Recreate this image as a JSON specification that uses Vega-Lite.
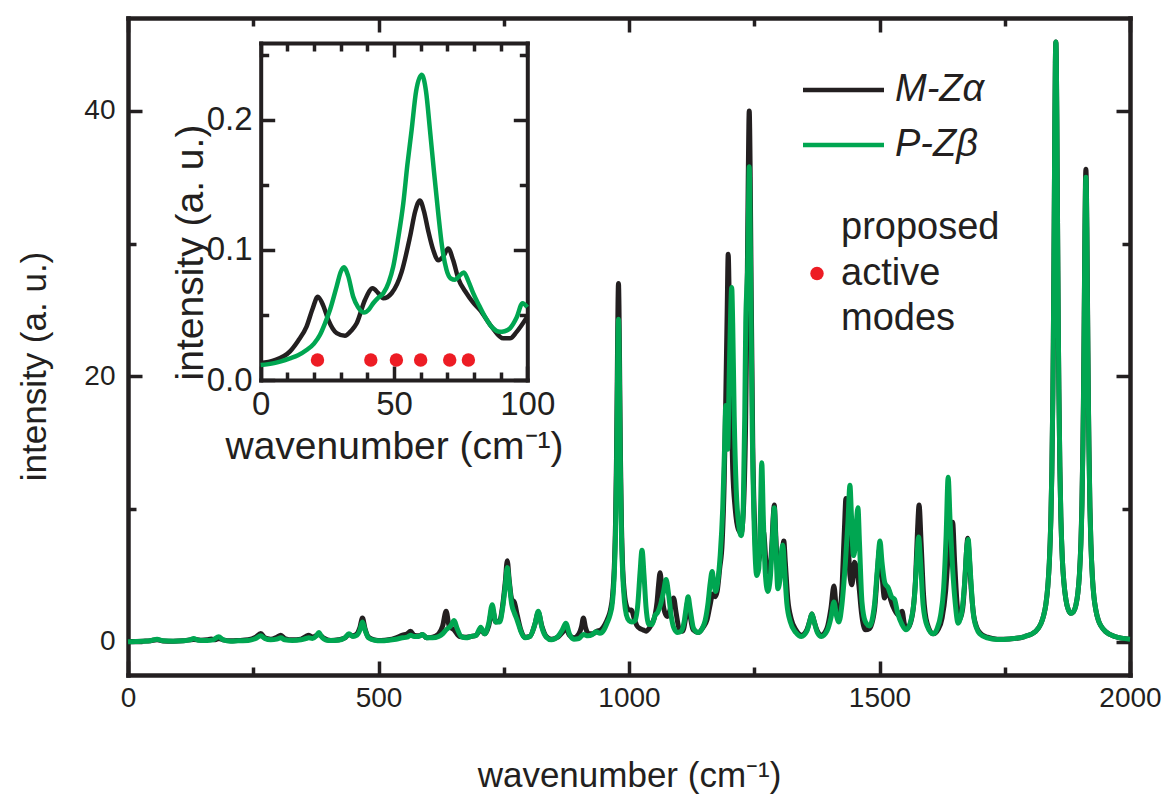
{
"$schema":"https://vega.github.io/schema/vega-lite/v6.json",
"width":1002,"height":657,
"autosize":{"type":"none"},
"padding":{"left":128,"top":18,"right":42,"bottom":119},
"config":{"view":{"stroke":null},"font":"Liberation Sans",
"axis":{"grid":false,"domainColor":"#231f20","tickColor":"#231f20","labelColor":"#231f20","titleColor":"#231f20","labelFont":"Liberation Sans","titleFont":"Liberation Sans","titleFontWeight":"normal","domainWidth":4.5,"tickWidth":3.5,"domainCap":"square","labelOverlap":false,"labelFlush":false,"zindex":1}},
"datasets":{
"main":[
{"s":"M-Zα","wn":0,"int":0.02},{"s":"M-Zα","wn":15,"int":0.03},{"s":"M-Zα","wn":30,"int":0.05},{"s":"M-Zα","wn":45,"int":0.08},{"s":"M-Zα","wn":58,"int":0.15},{"s":"M-Zα","wn":70,"int":0.07},{"s":"M-Zα","wn":90,"int":0.05},{"s":"M-Zα","wn":110,"int":0.08},{"s":"M-Zα","wn":131,"int":0.18},{"s":"M-Zα","wn":145,"int":0.12},{"s":"M-Zα","wn":158,"int":0.15},{"s":"M-Zα","wn":166,"int":0.22},{"s":"M-Zα","wn":174,"int":0.15},{"s":"M-Zα","wn":181,"int":0.25},{"s":"M-Zα","wn":190,"int":0.15},{"s":"M-Zα","wn":205,"int":0.08},{"s":"M-Zα","wn":220,"int":0.1},{"s":"M-Zα","wn":240,"int":0.15},{"s":"M-Zα","wn":255,"int":0.35},{"s":"M-Zα","wn":265,"int":0.63},{"s":"M-Zα","wn":273,"int":0.3},{"s":"M-Zα","wn":285,"int":0.2},{"s":"M-Zα","wn":297,"int":0.35},{"s":"M-Zα","wn":305,"int":0.5},{"s":"M-Zα","wn":313,"int":0.25},{"s":"M-Zα","wn":328,"int":0.15},{"s":"M-Zα","wn":345,"int":0.2},{"s":"M-Zα","wn":355,"int":0.4},{"s":"M-Zα","wn":361,"int":0.5},{"s":"M-Zα","wn":368,"int":0.35},{"s":"M-Zα","wn":381,"int":0.55},{"s":"M-Zα","wn":390,"int":0.3},{"s":"M-Zα","wn":405,"int":0.1},{"s":"M-Zα","wn":420,"int":0.15},{"s":"M-Zα","wn":433,"int":0.3},{"s":"M-Zα","wn":441,"int":0.55},{"s":"M-Zα","wn":449,"int":0.45},{"s":"M-Zα","wn":457,"int":0.6},{"s":"M-Zα","wn":463,"int":1.1},{"s":"M-Zα","wn":468,"int":1.8},{"s":"M-Zα","wn":473,"int":1.0},{"s":"M-Zα","wn":480,"int":0.35},{"s":"M-Zα","wn":492,"int":0.15},{"s":"M-Zα","wn":505,"int":0.1},{"s":"M-Zα","wn":520,"int":0.15},{"s":"M-Zα","wn":535,"int":0.3},{"s":"M-Zα","wn":548,"int":0.5},{"s":"M-Zα","wn":557,"int":0.6},{"s":"M-Zα","wn":564,"int":0.8},{"s":"M-Zα","wn":571,"int":0.5},{"s":"M-Zα","wn":580,"int":0.45},{"s":"M-Zα","wn":588,"int":0.55},{"s":"M-Zα","wn":596,"int":0.3},{"s":"M-Zα","wn":608,"int":0.35},{"s":"M-Zα","wn":620,"int":0.6},{"s":"M-Zα","wn":628,"int":1.2},{"s":"M-Zα","wn":635,"int":2.3},{"s":"M-Zα","wn":641,"int":1.2},{"s":"M-Zα","wn":651,"int":0.9},{"s":"M-Zα","wn":662,"int":0.4},{"s":"M-Zα","wn":675,"int":0.35},{"s":"M-Zα","wn":684,"int":0.4},{"s":"M-Zα","wn":695,"int":0.5},{"s":"M-Zα","wn":704,"int":0.9},{"s":"M-Zα","wn":712,"int":0.6},{"s":"M-Zα","wn":720,"int":1.2},{"s":"M-Zα","wn":727,"int":2.5},{"s":"M-Zα","wn":734,"int":1.5},{"s":"M-Zα","wn":742,"int":1.6},{"s":"M-Zα","wn":748,"int":2.8},{"s":"M-Zα","wn":753,"int":4.5},{"s":"M-Zα","wn":757,"int":6.1},{"s":"M-Zα","wn":761,"int":4.6},{"s":"M-Zα","wn":766,"int":3.2},{"s":"M-Zα","wn":771,"int":3.0},{"s":"M-Zα","wn":777,"int":2.0},{"s":"M-Zα","wn":784,"int":0.9},{"s":"M-Zα","wn":792,"int":0.35},{"s":"M-Zα","wn":802,"int":0.4},{"s":"M-Zα","wn":812,"int":1.3},{"s":"M-Zα","wn":819,"int":2.2},{"s":"M-Zα","wn":826,"int":1.2},{"s":"M-Zα","wn":835,"int":0.4},{"s":"M-Zα","wn":845,"int":0.2},{"s":"M-Zα","wn":858,"int":0.35},{"s":"M-Zα","wn":867,"int":0.7},{"s":"M-Zα","wn":874,"int":1.0},{"s":"M-Zα","wn":881,"int":0.5},{"s":"M-Zα","wn":890,"int":0.3},{"s":"M-Zα","wn":900,"int":0.6},{"s":"M-Zα","wn":905,"int":1.1},{"s":"M-Zα","wn":909,"int":1.8},{"s":"M-Zα","wn":913,"int":1.1},{"s":"M-Zα","wn":920,"int":0.6},{"s":"M-Zα","wn":928,"int":0.6},{"s":"M-Zα","wn":936,"int":0.8},{"s":"M-Zα","wn":944,"int":0.9},{"s":"M-Zα","wn":952,"int":1.3},{"s":"M-Zα","wn":958,"int":1.8},{"s":"M-Zα","wn":963,"int":2.4},{"s":"M-Zα","wn":967,"int":3.4},{"s":"M-Zα","wn":971,"int":6.0},{"s":"M-Zα","wn":973,"int":8.8},{"s":"M-Zα","wn":975,"int":13.8},{"s":"M-Zα","wn":977,"int":21.7},{"s":"M-Zα","wn":978,"int":25.4},{"s":"M-Zα","wn":979,"int":27.0},{"s":"M-Zα","wn":980,"int":25.4},{"s":"M-Zα","wn":981,"int":21.7},{"s":"M-Zα","wn":983,"int":13.8},{"s":"M-Zα","wn":985,"int":8.8},{"s":"M-Zα","wn":987,"int":6.0},{"s":"M-Zα","wn":991,"int":3.6},{"s":"M-Zα","wn":995,"int":2.7},{"s":"M-Zα","wn":1000,"int":2.4},{"s":"M-Zα","wn":1005,"int":2.4},{"s":"M-Zα","wn":1010,"int":1.8},{"s":"M-Zα","wn":1016,"int":1.2},{"s":"M-Zα","wn":1022,"int":1.0},{"s":"M-Zα","wn":1028,"int":0.9},{"s":"M-Zα","wn":1034,"int":0.8},{"s":"M-Zα","wn":1040,"int":1.0},{"s":"M-Zα","wn":1046,"int":1.4},{"s":"M-Zα","wn":1052,"int":2.0},{"s":"M-Zα","wn":1056,"int":3.0},{"s":"M-Zα","wn":1059,"int":4.3},{"s":"M-Zα","wn":1062,"int":5.2},{"s":"M-Zα","wn":1065,"int":4.3},{"s":"M-Zα","wn":1069,"int":2.6},{"s":"M-Zα","wn":1076,"int":1.9},{"s":"M-Zα","wn":1082,"int":2.4},{"s":"M-Zα","wn":1089,"int":3.3},{"s":"M-Zα","wn":1094,"int":2.2},{"s":"M-Zα","wn":1100,"int":1.0},{"s":"M-Zα","wn":1107,"int":0.8},{"s":"M-Zα","wn":1113,"int":1.8},{"s":"M-Zα","wn":1117,"int":3.0},{"s":"M-Zα","wn":1121,"int":2.2},{"s":"M-Zα","wn":1128,"int":0.9},{"s":"M-Zα","wn":1138,"int":0.7},{"s":"M-Zα","wn":1148,"int":1.1},{"s":"M-Zα","wn":1156,"int":1.7},{"s":"M-Zα","wn":1162,"int":2.8},{"s":"M-Zα","wn":1167,"int":3.6},{"s":"M-Zα","wn":1172,"int":3.4},{"s":"M-Zα","wn":1176,"int":3.8},{"s":"M-Zα","wn":1181,"int":5.5},{"s":"M-Zα","wn":1186,"int":7.5},{"s":"M-Zα","wn":1190,"int":12},{"s":"M-Zα","wn":1193,"int":18},{"s":"M-Zα","wn":1196,"int":25},{"s":"M-Zα","wn":1198,"int":29.2},{"s":"M-Zα","wn":1200,"int":26},{"s":"M-Zα","wn":1203,"int":19},{"s":"M-Zα","wn":1207,"int":13},{"s":"M-Zα","wn":1212,"int":10},{"s":"M-Zα","wn":1218,"int":8.5},{"s":"M-Zα","wn":1224,"int":8.2},{"s":"M-Zα","wn":1229,"int":10.5},{"s":"M-Zα","wn":1233,"int":17},{"s":"M-Zα","wn":1236,"int":27},{"s":"M-Zα","wn":1238,"int":35},{"s":"M-Zα","wn":1240,"int":40},{"s":"M-Zα","wn":1242,"int":35},{"s":"M-Zα","wn":1244,"int":26},{"s":"M-Zα","wn":1247,"int":15},{"s":"M-Zα","wn":1251,"int":8.5},{"s":"M-Zα","wn":1256,"int":5.8},{"s":"M-Zα","wn":1261,"int":6.5},{"s":"M-Zα","wn":1265,"int":8.5},{"s":"M-Zα","wn":1269,"int":8.2},{"s":"M-Zα","wn":1274,"int":5.8},{"s":"M-Zα","wn":1280,"int":5.2},{"s":"M-Zα","wn":1285,"int":7.2},{"s":"M-Zα","wn":1288,"int":9.5},{"s":"M-Zα","wn":1290,"int":10.3},{"s":"M-Zα","wn":1293,"int":8.0},{"s":"M-Zα","wn":1298,"int":4.8},{"s":"M-Zα","wn":1303,"int":5.6},{"s":"M-Zα","wn":1307,"int":7.2},{"s":"M-Zα","wn":1309,"int":7.6},{"s":"M-Zα","wn":1312,"int":6.0},{"s":"M-Zα","wn":1317,"int":3.2},{"s":"M-Zα","wn":1324,"int":1.7},{"s":"M-Zα","wn":1333,"int":0.9},{"s":"M-Zα","wn":1344,"int":0.5},{"s":"M-Zα","wn":1355,"int":0.9},{"s":"M-Zα","wn":1361,"int":1.6},{"s":"M-Zα","wn":1365,"int":2.1},{"s":"M-Zα","wn":1369,"int":1.6},{"s":"M-Zα","wn":1376,"int":0.8},{"s":"M-Zα","wn":1384,"int":0.5},{"s":"M-Zα","wn":1395,"int":1.0},{"s":"M-Zα","wn":1403,"int":2.5},{"s":"M-Zα","wn":1409,"int":4.2},{"s":"M-Zα","wn":1414,"int":2.5},{"s":"M-Zα","wn":1419,"int":2.0},{"s":"M-Zα","wn":1425,"int":4.0},{"s":"M-Zα","wn":1430,"int":8.5},{"s":"M-Zα","wn":1433,"int":10.8},{"s":"M-Zα","wn":1437,"int":8.0},{"s":"M-Zα","wn":1441,"int":5.0},{"s":"M-Zα","wn":1445,"int":4.3},{"s":"M-Zα","wn":1450,"int":6.0},{"s":"M-Zα","wn":1454,"int":5.6},{"s":"M-Zα","wn":1459,"int":4.2},{"s":"M-Zα","wn":1464,"int":2.2},{"s":"M-Zα","wn":1472,"int":0.9},{"s":"M-Zα","wn":1480,"int":1.0},{"s":"M-Zα","wn":1490,"int":2.4},{"s":"M-Zα","wn":1496,"int":5.3},{"s":"M-Zα","wn":1500,"int":7.0},{"s":"M-Zα","wn":1504,"int":5.5},{"s":"M-Zα","wn":1510,"int":3.3},{"s":"M-Zα","wn":1517,"int":4.0},{"s":"M-Zα","wn":1522,"int":3.2},{"s":"M-Zα","wn":1530,"int":2.4},{"s":"M-Zα","wn":1538,"int":2.0},{"s":"M-Zα","wn":1545,"int":2.3},{"s":"M-Zα","wn":1550,"int":1.3},{"s":"M-Zα","wn":1556,"int":1.0},{"s":"M-Zα","wn":1565,"int":1.9},{"s":"M-Zα","wn":1572,"int":4.8},{"s":"M-Zα","wn":1576,"int":8.5},{"s":"M-Zα","wn":1579,"int":10.3},{"s":"M-Zα","wn":1583,"int":7.5},{"s":"M-Zα","wn":1588,"int":3.5},{"s":"M-Zα","wn":1595,"int":1.4},{"s":"M-Zα","wn":1607,"int":0.6},{"s":"M-Zα","wn":1618,"int":1.0},{"s":"M-Zα","wn":1625,"int":1.8},{"s":"M-Zα","wn":1632,"int":3.8},{"s":"M-Zα","wn":1637,"int":6.5},{"s":"M-Zα","wn":1642,"int":8.8},{"s":"M-Zα","wn":1646,"int":9.0},{"s":"M-Zα","wn":1650,"int":6.0},{"s":"M-Zα","wn":1655,"int":2.8},{"s":"M-Zα","wn":1660,"int":1.7},{"s":"M-Zα","wn":1666,"int":2.5},{"s":"M-Zα","wn":1671,"int":5.0},{"s":"M-Zα","wn":1674,"int":7.0},{"s":"M-Zα","wn":1676,"int":7.8},{"s":"M-Zα","wn":1679,"int":6.5},{"s":"M-Zα","wn":1683,"int":4.0},{"s":"M-Zα","wn":1688,"int":2.0},{"s":"M-Zα","wn":1694,"int":1.1},{"s":"M-Zα","wn":1700,"int":0.7},{"s":"M-Zα","wn":1715,"int":0.35},{"s":"M-Zα","wn":1735,"int":0.2},{"s":"M-Zα","wn":1760,"int":0.22},{"s":"M-Zα","wn":1790,"int":0.4},{"s":"M-Zα","wn":1812,"int":0.8},{"s":"M-Zα","wn":1822,"int":1.35},{"s":"M-Zα","wn":1827,"int":1.9},{"s":"M-Zα","wn":1832,"int":2.8},{"s":"M-Zα","wn":1836,"int":4.2},{"s":"M-Zα","wn":1839,"int":6.0},{"s":"M-Zα","wn":1842,"int":9.2},{"s":"M-Zα","wn":1844,"int":12.8},{"s":"M-Zα","wn":1846,"int":18.6},{"s":"M-Zα","wn":1847,"int":22.7},{"s":"M-Zα","wn":1848,"int":27.8},{"s":"M-Zα","wn":1849,"int":33.5},{"s":"M-Zα","wn":1850,"int":39.2},{"s":"M-Zα","wn":1851,"int":43.6},{"s":"M-Zα","wn":1852,"int":45.2},{"s":"M-Zα","wn":1853,"int":43.6},{"s":"M-Zα","wn":1854,"int":39.3},{"s":"M-Zα","wn":1855,"int":33.6},{"s":"M-Zα","wn":1856,"int":28},{"s":"M-Zα","wn":1857,"int":23.1},{"s":"M-Zα","wn":1858,"int":19.1},{"s":"M-Zα","wn":1860,"int":13.2},{"s":"M-Zα","wn":1862,"int":9.4},{"s":"M-Zα","wn":1865,"int":6.2},{"s":"M-Zα","wn":1868,"int":4.5},{"s":"M-Zα","wn":1872,"int":3.2},{"s":"M-Zα","wn":1877,"int":2.4},{"s":"M-Zα","wn":1882,"int":2.15},{"s":"M-Zα","wn":1887,"int":2.26},{"s":"M-Zα","wn":1892,"int":2.76},{"s":"M-Zα","wn":1896,"int":3.7},{"s":"M-Zα","wn":1899,"int":5.05},{"s":"M-Zα","wn":1902,"int":7.5},{"s":"M-Zα","wn":1904,"int":10.3},{"s":"M-Zα","wn":1906,"int":14.9},{"s":"M-Zα","wn":1907,"int":18},{"s":"M-Zα","wn":1908,"int":21.9},{"s":"M-Zα","wn":1909,"int":26.4},{"s":"M-Zα","wn":1910,"int":30.8},{"s":"M-Zα","wn":1911,"int":34.3},{"s":"M-Zα","wn":1912,"int":35.6},{"s":"M-Zα","wn":1913,"int":34.3},{"s":"M-Zα","wn":1914,"int":30.8},{"s":"M-Zα","wn":1915,"int":26.4},{"s":"M-Zα","wn":1916,"int":21.9},{"s":"M-Zα","wn":1917,"int":18},{"s":"M-Zα","wn":1918,"int":14.9},{"s":"M-Zα","wn":1920,"int":10.2},{"s":"M-Zα","wn":1922,"int":7.4},{"s":"M-Zα","wn":1925,"int":4.85},{"s":"M-Zα","wn":1928,"int":3.4},{"s":"M-Zα","wn":1932,"int":2.36},{"s":"M-Zα","wn":1937,"int":1.6},{"s":"M-Zα","wn":1942,"int":1.2},{"s":"M-Zα","wn":1952,"int":0.75},{"s":"M-Zα","wn":1970,"int":0.4},{"s":"M-Zα","wn":2000,"int":0.2},
{"s":"P-Zβ","wn":0,"int":0.0},{"s":"P-Zβ","wn":15,"int":0.02},{"s":"P-Zβ","wn":30,"int":0.04},{"s":"P-Zβ","wn":45,"int":0.08},{"s":"P-Zβ","wn":58,"int":0.2},{"s":"P-Zβ","wn":70,"int":0.08},{"s":"P-Zβ","wn":90,"int":0.05},{"s":"P-Zβ","wn":110,"int":0.08},{"s":"P-Zβ","wn":124,"int":0.15},{"s":"P-Zβ","wn":131,"int":0.25},{"s":"P-Zβ","wn":140,"int":0.12},{"s":"P-Zβ","wn":158,"int":0.1},{"s":"P-Zβ","wn":170,"int":0.15},{"s":"P-Zβ","wn":181,"int":0.38},{"s":"P-Zβ","wn":190,"int":0.15},{"s":"P-Zβ","wn":205,"int":0.05},{"s":"P-Zβ","wn":220,"int":0.08},{"s":"P-Zβ","wn":240,"int":0.1},{"s":"P-Zβ","wn":255,"int":0.25},{"s":"P-Zβ","wn":265,"int":0.45},{"s":"P-Zβ","wn":273,"int":0.25},{"s":"P-Zβ","wn":285,"int":0.15},{"s":"P-Zβ","wn":297,"int":0.2},{"s":"P-Zβ","wn":305,"int":0.3},{"s":"P-Zβ","wn":313,"int":0.15},{"s":"P-Zβ","wn":328,"int":0.1},{"s":"P-Zβ","wn":345,"int":0.15},{"s":"P-Zβ","wn":355,"int":0.25},{"s":"P-Zβ","wn":361,"int":0.3},{"s":"P-Zβ","wn":368,"int":0.25},{"s":"P-Zβ","wn":376,"int":0.45},{"s":"P-Zβ","wn":381,"int":0.7},{"s":"P-Zβ","wn":387,"int":0.35},{"s":"P-Zβ","wn":400,"int":0.1},{"s":"P-Zβ","wn":420,"int":0.12},{"s":"P-Zβ","wn":433,"int":0.3},{"s":"P-Zβ","wn":441,"int":0.6},{"s":"P-Zβ","wn":449,"int":0.4},{"s":"P-Zβ","wn":457,"int":0.5},{"s":"P-Zβ","wn":463,"int":0.9},{"s":"P-Zβ","wn":468,"int":1.5},{"s":"P-Zβ","wn":473,"int":0.9},{"s":"P-Zβ","wn":480,"int":0.3},{"s":"P-Zβ","wn":492,"int":0.12},{"s":"P-Zβ","wn":505,"int":0.08},{"s":"P-Zβ","wn":520,"int":0.12},{"s":"P-Zβ","wn":535,"int":0.2},{"s":"P-Zβ","wn":548,"int":0.3},{"s":"P-Zβ","wn":557,"int":0.35},{"s":"P-Zβ","wn":564,"int":0.5},{"s":"P-Zβ","wn":571,"int":0.4},{"s":"P-Zβ","wn":580,"int":0.4},{"s":"P-Zβ","wn":588,"int":0.55},{"s":"P-Zβ","wn":596,"int":0.3},{"s":"P-Zβ","wn":608,"int":0.3},{"s":"P-Zβ","wn":620,"int":0.4},{"s":"P-Zβ","wn":628,"int":0.6},{"s":"P-Zβ","wn":635,"int":0.9},{"s":"P-Zβ","wn":644,"int":1.2},{"s":"P-Zβ","wn":651,"int":1.6},{"s":"P-Zβ","wn":657,"int":1.0},{"s":"P-Zβ","wn":665,"int":0.4},{"s":"P-Zβ","wn":675,"int":0.3},{"s":"P-Zβ","wn":684,"int":0.4},{"s":"P-Zβ","wn":695,"int":0.5},{"s":"P-Zβ","wn":704,"int":1.1},{"s":"P-Zβ","wn":712,"int":0.6},{"s":"P-Zβ","wn":720,"int":1.4},{"s":"P-Zβ","wn":727,"int":2.8},{"s":"P-Zβ","wn":734,"int":1.5},{"s":"P-Zβ","wn":742,"int":1.5},{"s":"P-Zβ","wn":748,"int":2.6},{"s":"P-Zβ","wn":753,"int":4.2},{"s":"P-Zβ","wn":757,"int":5.6},{"s":"P-Zβ","wn":761,"int":4.4},{"s":"P-Zβ","wn":766,"int":2.8},{"s":"P-Zβ","wn":771,"int":2.2},{"s":"P-Zβ","wn":777,"int":1.6},{"s":"P-Zβ","wn":784,"int":0.8},{"s":"P-Zβ","wn":792,"int":0.3},{"s":"P-Zβ","wn":802,"int":0.4},{"s":"P-Zβ","wn":812,"int":1.3},{"s":"P-Zβ","wn":819,"int":2.3},{"s":"P-Zβ","wn":826,"int":1.1},{"s":"P-Zβ","wn":835,"int":0.35},{"s":"P-Zβ","wn":845,"int":0.15},{"s":"P-Zβ","wn":858,"int":0.4},{"s":"P-Zβ","wn":867,"int":0.9},{"s":"P-Zβ","wn":874,"int":1.4},{"s":"P-Zβ","wn":881,"int":0.6},{"s":"P-Zβ","wn":890,"int":0.2},{"s":"P-Zβ","wn":900,"int":0.25},{"s":"P-Zβ","wn":909,"int":0.55},{"s":"P-Zβ","wn":918,"int":0.45},{"s":"P-Zβ","wn":927,"int":0.55},{"s":"P-Zβ","wn":934,"int":0.75},{"s":"P-Zβ","wn":942,"int":0.65},{"s":"P-Zβ","wn":950,"int":0.9},{"s":"P-Zβ","wn":956,"int":1.4},{"s":"P-Zβ","wn":962,"int":2.0},{"s":"P-Zβ","wn":967,"int":3.0},{"s":"P-Zβ","wn":971,"int":5.5},{"s":"P-Zβ","wn":973,"int":8.0},{"s":"P-Zβ","wn":975,"int":12.5},{"s":"P-Zβ","wn":977,"int":19.6},{"s":"P-Zβ","wn":978,"int":22.9},{"s":"P-Zβ","wn":979,"int":24.3},{"s":"P-Zβ","wn":980,"int":22.9},{"s":"P-Zβ","wn":981,"int":19.6},{"s":"P-Zβ","wn":983,"int":12.5},{"s":"P-Zβ","wn":985,"int":8.0},{"s":"P-Zβ","wn":987,"int":5.5},{"s":"P-Zβ","wn":991,"int":3.0},{"s":"P-Zβ","wn":995,"int":2.0},{"s":"P-Zβ","wn":1000,"int":1.6},{"s":"P-Zβ","wn":1006,"int":1.5},{"s":"P-Zβ","wn":1012,"int":1.6},{"s":"P-Zβ","wn":1018,"int":3.0},{"s":"P-Zβ","wn":1022,"int":5.2},{"s":"P-Zβ","wn":1026,"int":6.9},{"s":"P-Zβ","wn":1030,"int":5.0},{"s":"P-Zβ","wn":1034,"int":2.6},{"s":"P-Zβ","wn":1040,"int":1.3},{"s":"P-Zβ","wn":1046,"int":1.3},{"s":"P-Zβ","wn":1052,"int":2.0},{"s":"P-Zβ","wn":1057,"int":2.2},{"s":"P-Zβ","wn":1063,"int":2.8},{"s":"P-Zβ","wn":1069,"int":3.8},{"s":"P-Zβ","wn":1074,"int":4.7},{"s":"P-Zβ","wn":1079,"int":3.6},{"s":"P-Zβ","wn":1084,"int":2.0},{"s":"P-Zβ","wn":1090,"int":1.0},{"s":"P-Zβ","wn":1097,"int":0.7},{"s":"P-Zβ","wn":1104,"int":0.8},{"s":"P-Zβ","wn":1110,"int":1.5},{"s":"P-Zβ","wn":1115,"int":2.8},{"s":"P-Zβ","wn":1118,"int":3.4},{"s":"P-Zβ","wn":1122,"int":2.5},{"s":"P-Zβ","wn":1129,"int":1.0},{"s":"P-Zβ","wn":1138,"int":0.7},{"s":"P-Zβ","wn":1146,"int":1.0},{"s":"P-Zβ","wn":1152,"int":1.6},{"s":"P-Zβ","wn":1158,"int":3.0},{"s":"P-Zβ","wn":1162,"int":4.4},{"s":"P-Zβ","wn":1166,"int":5.3},{"s":"P-Zβ","wn":1169,"int":4.5},{"s":"P-Zβ","wn":1173,"int":3.8},{"s":"P-Zβ","wn":1177,"int":4.5},{"s":"P-Zβ","wn":1182,"int":6.5},{"s":"P-Zβ","wn":1187,"int":10},{"s":"P-Zβ","wn":1191,"int":15},{"s":"P-Zβ","wn":1193,"int":17.8},{"s":"P-Zβ","wn":1195,"int":15},{"s":"P-Zβ","wn":1197,"int":14.5},{"s":"P-Zβ","wn":1200,"int":20},{"s":"P-Zβ","wn":1203,"int":25},{"s":"P-Zβ","wn":1205,"int":26.7},{"s":"P-Zβ","wn":1207,"int":24},{"s":"P-Zβ","wn":1210,"int":17},{"s":"P-Zβ","wn":1214,"int":11.5},{"s":"P-Zβ","wn":1219,"int":8.8},{"s":"P-Zβ","wn":1224,"int":8.0},{"s":"P-Zβ","wn":1228,"int":10},{"s":"P-Zβ","wn":1231,"int":17},{"s":"P-Zβ","wn":1233,"int":24},{"s":"P-Zβ","wn":1235,"int":26.5},{"s":"P-Zβ","wn":1237,"int":28.5},{"s":"P-Zβ","wn":1239,"int":34},{"s":"P-Zβ","wn":1240,"int":35.8},{"s":"P-Zβ","wn":1241,"int":34},{"s":"P-Zβ","wn":1243,"int":27},{"s":"P-Zβ","wn":1246,"int":16},{"s":"P-Zβ","wn":1250,"int":8.5},{"s":"P-Zβ","wn":1255,"int":5.0},{"s":"P-Zβ","wn":1259,"int":5.5},{"s":"P-Zβ","wn":1262,"int":9},{"s":"P-Zβ","wn":1265,"int":13.5},{"s":"P-Zβ","wn":1268,"int":9.5},{"s":"P-Zβ","wn":1272,"int":5.2},{"s":"P-Zβ","wn":1277,"int":3.8},{"s":"P-Zβ","wn":1282,"int":4.8},{"s":"P-Zβ","wn":1286,"int":7.5},{"s":"P-Zβ","wn":1290,"int":10.1},{"s":"P-Zβ","wn":1293,"int":7.5},{"s":"P-Zβ","wn":1297,"int":4.0},{"s":"P-Zβ","wn":1301,"int":4.6},{"s":"P-Zβ","wn":1305,"int":7.0},{"s":"P-Zβ","wn":1307,"int":7.3},{"s":"P-Zβ","wn":1310,"int":5.8},{"s":"P-Zβ","wn":1315,"int":2.9},{"s":"P-Zβ","wn":1322,"int":1.5},{"s":"P-Zβ","wn":1333,"int":0.7},{"s":"P-Zβ","wn":1344,"int":0.4},{"s":"P-Zβ","wn":1355,"int":0.8},{"s":"P-Zβ","wn":1361,"int":1.6},{"s":"P-Zβ","wn":1365,"int":2.1},{"s":"P-Zβ","wn":1369,"int":1.6},{"s":"P-Zβ","wn":1376,"int":0.7},{"s":"P-Zβ","wn":1384,"int":0.4},{"s":"P-Zβ","wn":1395,"int":0.8},{"s":"P-Zβ","wn":1403,"int":1.8},{"s":"P-Zβ","wn":1409,"int":3.0},{"s":"P-Zβ","wn":1414,"int":2.0},{"s":"P-Zβ","wn":1419,"int":1.5},{"s":"P-Zβ","wn":1425,"int":2.8},{"s":"P-Zβ","wn":1432,"int":6.0},{"s":"P-Zβ","wn":1437,"int":9.0},{"s":"P-Zβ","wn":1441,"int":11.8},{"s":"P-Zβ","wn":1444,"int":9.5},{"s":"P-Zβ","wn":1448,"int":6.5},{"s":"P-Zβ","wn":1451,"int":7.0},{"s":"P-Zβ","wn":1454,"int":9.0},{"s":"P-Zβ","wn":1457,"int":10.1},{"s":"P-Zβ","wn":1460,"int":7.5},{"s":"P-Zβ","wn":1465,"int":3.0},{"s":"P-Zβ","wn":1472,"int":1.5},{"s":"P-Zβ","wn":1480,"int":1.2},{"s":"P-Zβ","wn":1490,"int":2.8},{"s":"P-Zβ","wn":1496,"int":5.6},{"s":"P-Zβ","wn":1501,"int":7.6},{"s":"P-Zβ","wn":1505,"int":6.0},{"s":"P-Zβ","wn":1511,"int":4.4},{"s":"P-Zβ","wn":1517,"int":4.1},{"s":"P-Zβ","wn":1524,"int":3.4},{"s":"P-Zβ","wn":1530,"int":3.2},{"s":"P-Zβ","wn":1536,"int":2.2},{"s":"P-Zβ","wn":1545,"int":1.3},{"s":"P-Zβ","wn":1553,"int":0.9},{"s":"P-Zβ","wn":1562,"int":1.5},{"s":"P-Zβ","wn":1570,"int":3.5},{"s":"P-Zβ","wn":1575,"int":6.5},{"s":"P-Zβ","wn":1578,"int":7.9},{"s":"P-Zβ","wn":1582,"int":6.0},{"s":"P-Zβ","wn":1587,"int":2.8},{"s":"P-Zβ","wn":1595,"int":1.2},{"s":"P-Zβ","wn":1607,"int":0.6},{"s":"P-Zβ","wn":1615,"int":1.0},{"s":"P-Zβ","wn":1622,"int":2.0},{"s":"P-Zβ","wn":1628,"int":4.0},{"s":"P-Zβ","wn":1633,"int":8.0},{"s":"P-Zβ","wn":1637,"int":12.4},{"s":"P-Zβ","wn":1641,"int":9.0},{"s":"P-Zβ","wn":1646,"int":5.5},{"s":"P-Zβ","wn":1651,"int":3.0},{"s":"P-Zβ","wn":1657,"int":1.4},{"s":"P-Zβ","wn":1664,"int":2.2},{"s":"P-Zβ","wn":1670,"int":4.5},{"s":"P-Zβ","wn":1674,"int":7.0},{"s":"P-Zβ","wn":1677,"int":7.7},{"s":"P-Zβ","wn":1681,"int":5.5},{"s":"P-Zβ","wn":1687,"int":2.2},{"s":"P-Zβ","wn":1694,"int":1.0},{"s":"P-Zβ","wn":1700,"int":0.6},{"s":"P-Zβ","wn":1715,"int":0.3},{"s":"P-Zβ","wn":1735,"int":0.18},{"s":"P-Zβ","wn":1760,"int":0.22},{"s":"P-Zβ","wn":1790,"int":0.4},{"s":"P-Zβ","wn":1812,"int":0.8},{"s":"P-Zβ","wn":1822,"int":1.35},{"s":"P-Zβ","wn":1827,"int":1.9},{"s":"P-Zβ","wn":1832,"int":2.8},{"s":"P-Zβ","wn":1836,"int":4.2},{"s":"P-Zβ","wn":1839,"int":6.0},{"s":"P-Zβ","wn":1842,"int":9.2},{"s":"P-Zβ","wn":1844,"int":12.8},{"s":"P-Zβ","wn":1846,"int":18.6},{"s":"P-Zβ","wn":1847,"int":22.7},{"s":"P-Zβ","wn":1848,"int":27.8},{"s":"P-Zβ","wn":1849,"int":33.5},{"s":"P-Zβ","wn":1850,"int":39.2},{"s":"P-Zβ","wn":1851,"int":43.6},{"s":"P-Zβ","wn":1852,"int":45.2},{"s":"P-Zβ","wn":1853,"int":43.6},{"s":"P-Zβ","wn":1854,"int":39.3},{"s":"P-Zβ","wn":1855,"int":33.6},{"s":"P-Zβ","wn":1856,"int":28},{"s":"P-Zβ","wn":1857,"int":23.1},{"s":"P-Zβ","wn":1858,"int":19.1},{"s":"P-Zβ","wn":1860,"int":13.2},{"s":"P-Zβ","wn":1862,"int":9.4},{"s":"P-Zβ","wn":1865,"int":6.2},{"s":"P-Zβ","wn":1868,"int":4.5},{"s":"P-Zβ","wn":1872,"int":3.2},{"s":"P-Zβ","wn":1877,"int":2.4},{"s":"P-Zβ","wn":1882,"int":2.15},{"s":"P-Zβ","wn":1887,"int":2.26},{"s":"P-Zβ","wn":1892,"int":2.76},{"s":"P-Zβ","wn":1896,"int":3.7},{"s":"P-Zβ","wn":1899,"int":5.0},{"s":"P-Zβ","wn":1902,"int":7.4},{"s":"P-Zβ","wn":1904,"int":10.1},{"s":"P-Zβ","wn":1906,"int":14.7},{"s":"P-Zβ","wn":1907,"int":17.7},{"s":"P-Zβ","wn":1908,"int":21.6},{"s":"P-Zβ","wn":1909,"int":26.0},{"s":"P-Zβ","wn":1910,"int":30.3},{"s":"P-Zβ","wn":1911,"int":33.8},{"s":"P-Zβ","wn":1912,"int":35.0},{"s":"P-Zβ","wn":1913,"int":33.8},{"s":"P-Zβ","wn":1914,"int":30.3},{"s":"P-Zβ","wn":1915,"int":26.0},{"s":"P-Zβ","wn":1916,"int":21.6},{"s":"P-Zβ","wn":1917,"int":17.7},{"s":"P-Zβ","wn":1918,"int":14.7},{"s":"P-Zβ","wn":1920,"int":10.1},{"s":"P-Zβ","wn":1922,"int":7.3},{"s":"P-Zβ","wn":1925,"int":4.8},{"s":"P-Zβ","wn":1928,"int":3.4},{"s":"P-Zβ","wn":1932,"int":2.36},{"s":"P-Zβ","wn":1937,"int":1.6},{"s":"P-Zβ","wn":1942,"int":1.2},{"s":"P-Zβ","wn":1952,"int":0.75},{"s":"P-Zβ","wn":1970,"int":0.4},{"s":"P-Zβ","wn":2000,"int":0.2}
],
"inset":[
{"s":"M-Zα","wn":0,"int":0.013},{"s":"M-Zα","wn":5,"int":0.015},{"s":"M-Zα","wn":11,"int":0.022},{"s":"M-Zα","wn":14,"int":0.03},{"s":"M-Zα","wn":17.2,"int":0.041},{"s":"M-Zα","wn":19.5,"int":0.055},{"s":"M-Zα","wn":21.4,"int":0.064},{"s":"M-Zα","wn":23.5,"int":0.057},{"s":"M-Zα","wn":25.4,"int":0.046},{"s":"M-Zα","wn":28.5,"int":0.036},{"s":"M-Zα","wn":31.6,"int":0.034},{"s":"M-Zα","wn":34,"int":0.038},{"s":"M-Zα","wn":36,"int":0.0436},{"s":"M-Zα","wn":39.1,"int":0.0615},{"s":"M-Zα","wn":42,"int":0.0705},{"s":"M-Zα","wn":44,"int":0.067},{"s":"M-Zα","wn":46,"int":0.0628},{"s":"M-Zα","wn":49.1,"int":0.0667},{"s":"M-Zα","wn":52.9,"int":0.0833},{"s":"M-Zα","wn":56,"int":0.11},{"s":"M-Zα","wn":58,"int":0.13},{"s":"M-Zα","wn":59.7,"int":0.138},{"s":"M-Zα","wn":61.2,"int":0.13},{"s":"M-Zα","wn":62.8,"int":0.115},{"s":"M-Zα","wn":64.7,"int":0.1},{"s":"M-Zα","wn":66.6,"int":0.092},{"s":"M-Zα","wn":68.5,"int":0.095},{"s":"M-Zα","wn":70.3,"int":0.101},{"s":"M-Zα","wn":72.2,"int":0.092},{"s":"M-Zα","wn":74.1,"int":0.078},{"s":"M-Zα","wn":77.2,"int":0.0667},{"s":"M-Zα","wn":79.5,"int":0.06},{"s":"M-Zα","wn":82.2,"int":0.054},{"s":"M-Zα","wn":86.6,"int":0.041},{"s":"M-Zα","wn":91,"int":0.032},{"s":"M-Zα","wn":93.5,"int":0.032},{"s":"M-Zα","wn":96,"int":0.037},{"s":"M-Zα","wn":100,"int":0.0487},
{"s":"P-Zβ","wn":0,"int":0.0115},{"s":"P-Zβ","wn":5,"int":0.013},{"s":"P-Zβ","wn":11,"int":0.0167},{"s":"P-Zβ","wn":14,"int":0.019},{"s":"P-Zβ","wn":17.2,"int":0.023},{"s":"P-Zβ","wn":20,"int":0.028},{"s":"P-Zβ","wn":22.2,"int":0.0346},{"s":"P-Zβ","wn":24,"int":0.043},{"s":"P-Zβ","wn":26,"int":0.054},{"s":"P-Zβ","wn":28.5,"int":0.072},{"s":"P-Zβ","wn":30,"int":0.083},{"s":"P-Zβ","wn":31.2,"int":0.0867},{"s":"P-Zβ","wn":32.8,"int":0.08},{"s":"P-Zβ","wn":34.7,"int":0.064},{"s":"P-Zβ","wn":36.5,"int":0.056},{"s":"P-Zβ","wn":38.7,"int":0.0518},{"s":"P-Zβ","wn":40.5,"int":0.054},{"s":"P-Zβ","wn":42.2,"int":0.059},{"s":"P-Zβ","wn":44,"int":0.063},{"s":"P-Zβ","wn":46,"int":0.0667},{"s":"P-Zβ","wn":48,"int":0.075},{"s":"P-Zβ","wn":49.7,"int":0.087},{"s":"P-Zβ","wn":51.5,"int":0.108},{"s":"P-Zβ","wn":53.5,"int":0.136},{"s":"P-Zβ","wn":55,"int":0.165},{"s":"P-Zβ","wn":56.6,"int":0.192},{"s":"P-Zβ","wn":58.3,"int":0.222},{"s":"P-Zβ","wn":60.4,"int":0.2346},{"s":"P-Zβ","wn":62,"int":0.222},{"s":"P-Zβ","wn":63.5,"int":0.192},{"s":"P-Zβ","wn":65,"int":0.16},{"s":"P-Zβ","wn":66.6,"int":0.128},{"s":"P-Zβ","wn":68,"int":0.103},{"s":"P-Zβ","wn":69.7,"int":0.0846},{"s":"P-Zβ","wn":71.3,"int":0.078},{"s":"P-Zβ","wn":72.9,"int":0.077},{"s":"P-Zβ","wn":74.5,"int":0.08},{"s":"P-Zβ","wn":76.2,"int":0.0826},{"s":"P-Zβ","wn":77.9,"int":0.076},{"s":"P-Zβ","wn":79.7,"int":0.0667},{"s":"P-Zβ","wn":82,"int":0.057},{"s":"P-Zβ","wn":84.1,"int":0.0487},{"s":"P-Zβ","wn":87,"int":0.04},{"s":"P-Zβ","wn":89.7,"int":0.037},{"s":"P-Zβ","wn":91.5,"int":0.0375},{"s":"P-Zβ","wn":93.5,"int":0.0397},{"s":"P-Zβ","wn":96,"int":0.048},{"s":"P-Zβ","wn":98.2,"int":0.059},{"s":"P-Zβ","wn":100,"int":0.056}
],
"modes":[
{"kind":"active","wn":21.3,"int":0.0154},{"kind":"active","wn":41.3,"int":0.0154},{"kind":"active","wn":50.9,"int":0.0154},{"kind":"active","wn":60,"int":0.0154},{"kind":"active","wn":70.9,"int":0.0154},{"kind":"active","wn":77.9,"int":0.0154}
]
},
"layer":[
{"layer":[
 {"data":{"name":"main"},
  "mark":{"type":"line","strokeWidth":5,"interpolate":"monotone","strokeJoin":"round"},
  "encoding":{
   "x":{"field":"wn","type":"quantitative","scale":{"domain":[0,2000],"nice":false,"zero":false},
     "axis":{"orient":"bottom","values":[0,250,500,750,1000,1250,1500,1750,2000],"labelExpr":"datum.value % 500 === 0 ? datum.label : ''","format":"d","tickSize":{"condition":{"test":"datum.value % 500 === 0","value":-14},"value":-8},"labelPadding":23,"labelFontSize":28,"title":"wavenumber (cm⁻¹)","titleFontSize":35,"titlePadding":40}},
   "y":{"field":"int","type":"quantitative","scale":{"domain":[-2.5,47],"nice":false,"zero":false},
     "axis":{"orient":"left","values":[0,10,20,30,40],"labelExpr":"datum.value % 20 === 0 ? datum.label : ''","tickSize":{"condition":{"test":"datum.value % 20 === 0","value":-14},"value":-8},"labelPadding":27,"labelFontSize":28,"title":"intensity (a. u.)","titleFontSize":35,"titlePadding":31,"titleY":348}},
   "color":{"field":"s","type":"nominal","scale":{"domain":["M-Zα","P-Zβ"],"range":["#231f20","#00a651"]},
     "legend":{"orient":"none","legendX":672.5,"legendY":44.5,"title":null,"symbolType":"stroke","symbolSize":6561,"symbolStrokeWidth":4.5,"clipHeight":55,"rowPadding":0,"padding":0,"labelFontSize":38,"labelFontStyle":"italic","labelFont":"Liberation Sans","labelColor":"#231f20","labelOffset":8.5,"labelLimit":400}}
  }},
 {"data":{"name":"main"},
  "mark":{"type":"point","opacity":0},
  "encoding":{
   "x":{"field":"wn","type":"quantitative","axis":{"orient":"top","values":[0,250,500,750,1000,1250,1500,1750,2000],"labels":false,"title":null,"tickSize":{"condition":{"test":"datum.value % 500 === 0","value":-14},"value":-8}}},
   "y":{"field":"int","type":"quantitative","axis":{"orient":"right","values":[0,10,20,30,40],"labels":false,"title":null,"tickSize":{"condition":{"test":"datum.value % 20 === 0","value":-14},"value":-8}}}
  }}
 ],
 "resolve":{"axis":{"x":"independent","y":"independent"}}
},
{"layer":[
 {"data":{"name":"inset"},
  "mark":{"type":"line","strokeWidth":4.5,"interpolate":"monotone","strokeJoin":"round"},
  "encoding":{
   "x":{"field":"wn","type":"quantitative","scale":{"domain":[0,100],"nice":false,"zero":false,"range":[132.7,399.3]},
     "axis":{"orient":"bottom","offset":-295,"domainWidth":4,"values":[0,10,20,30,40,50,60,70,80,90,100],"labelExpr":"datum.value % 50 === 0 ? datum.label : ''","tickSize":{"condition":{"test":"datum.value % 50 === 0","value":-14},"value":-8},"labelPadding":22,"labelFontSize":33,"title":"wavenumber (cm⁻¹)","titleFontSize":39,"titlePadding":0}},
   "y":{"field":"int","type":"quantitative","scale":{"domain":[0,0.259],"nice":false,"zero":false,"range":[362,25]},
     "axis":{"orient":"left","offset":-132.7,"domainWidth":4,"values":[0,0.05,0.1,0.15,0.2,0.25],"labelExpr":"round(datum.value*100) % 10 === 0 ? format(datum.value, '.1f') : ''","tickSize":{"condition":{"test":"round(datum.value*100) % 10 === 0","value":-14},"value":-8},"labelPadding":22.7,"labelFontSize":33,"title":"intensity (a. u.)","titleFontSize":39,"titlePadding":-4,"titleY":234}},
   "color":{"field":"s","type":"nominal"}
  }},
 {"data":{"name":"modes"},
  "mark":{"type":"point","filled":true,"size":180,"opacity":1,"color":"#ed1c24"},
  "encoding":{
   "x":{"field":"wn","type":"quantitative","axis":{"orient":"top","offset":-25,"domainWidth":4,"values":[0,10,20,30,40,50,60,70,80,90,100],"labels":false,"title":null,"tickSize":{"condition":{"test":"datum.value % 50 === 0","value":-14},"value":-8}}},
   "y":{"field":"int","type":"quantitative","axis":{"orient":"right","offset":-602.7,"domainWidth":4,"values":[0,0.05,0.1,0.15,0.2,0.25],"labels":false,"title":null,"tickSize":{"condition":{"test":"round(datum.value*100) % 10 === 0","value":-14},"value":-8}}},
   "shape":{"field":"kind","type":"nominal","scale":{"domain":["proposed","active","modes"],"range":["M0,0","circle","M0,0"]},
     "legend":{"orient":"none","legendX":670,"legendY":191,"title":null,"symbolSize":180,"symbolFillColor":"#ed1c24","symbolStrokeColor":"#ed1c24","symbolStrokeWidth":0,"rowPadding":7.5,"padding":0,"labelFontSize":38,"labelFont":"Liberation Sans","labelColor":"#231f20","labelOffset":5,"labelLimit":400}}
  }}
 ],
 "resolve":{"axis":{"x":"independent","y":"independent"}}
}
],
"resolve":{"scale":{"x":"independent","y":"independent"}}
}
